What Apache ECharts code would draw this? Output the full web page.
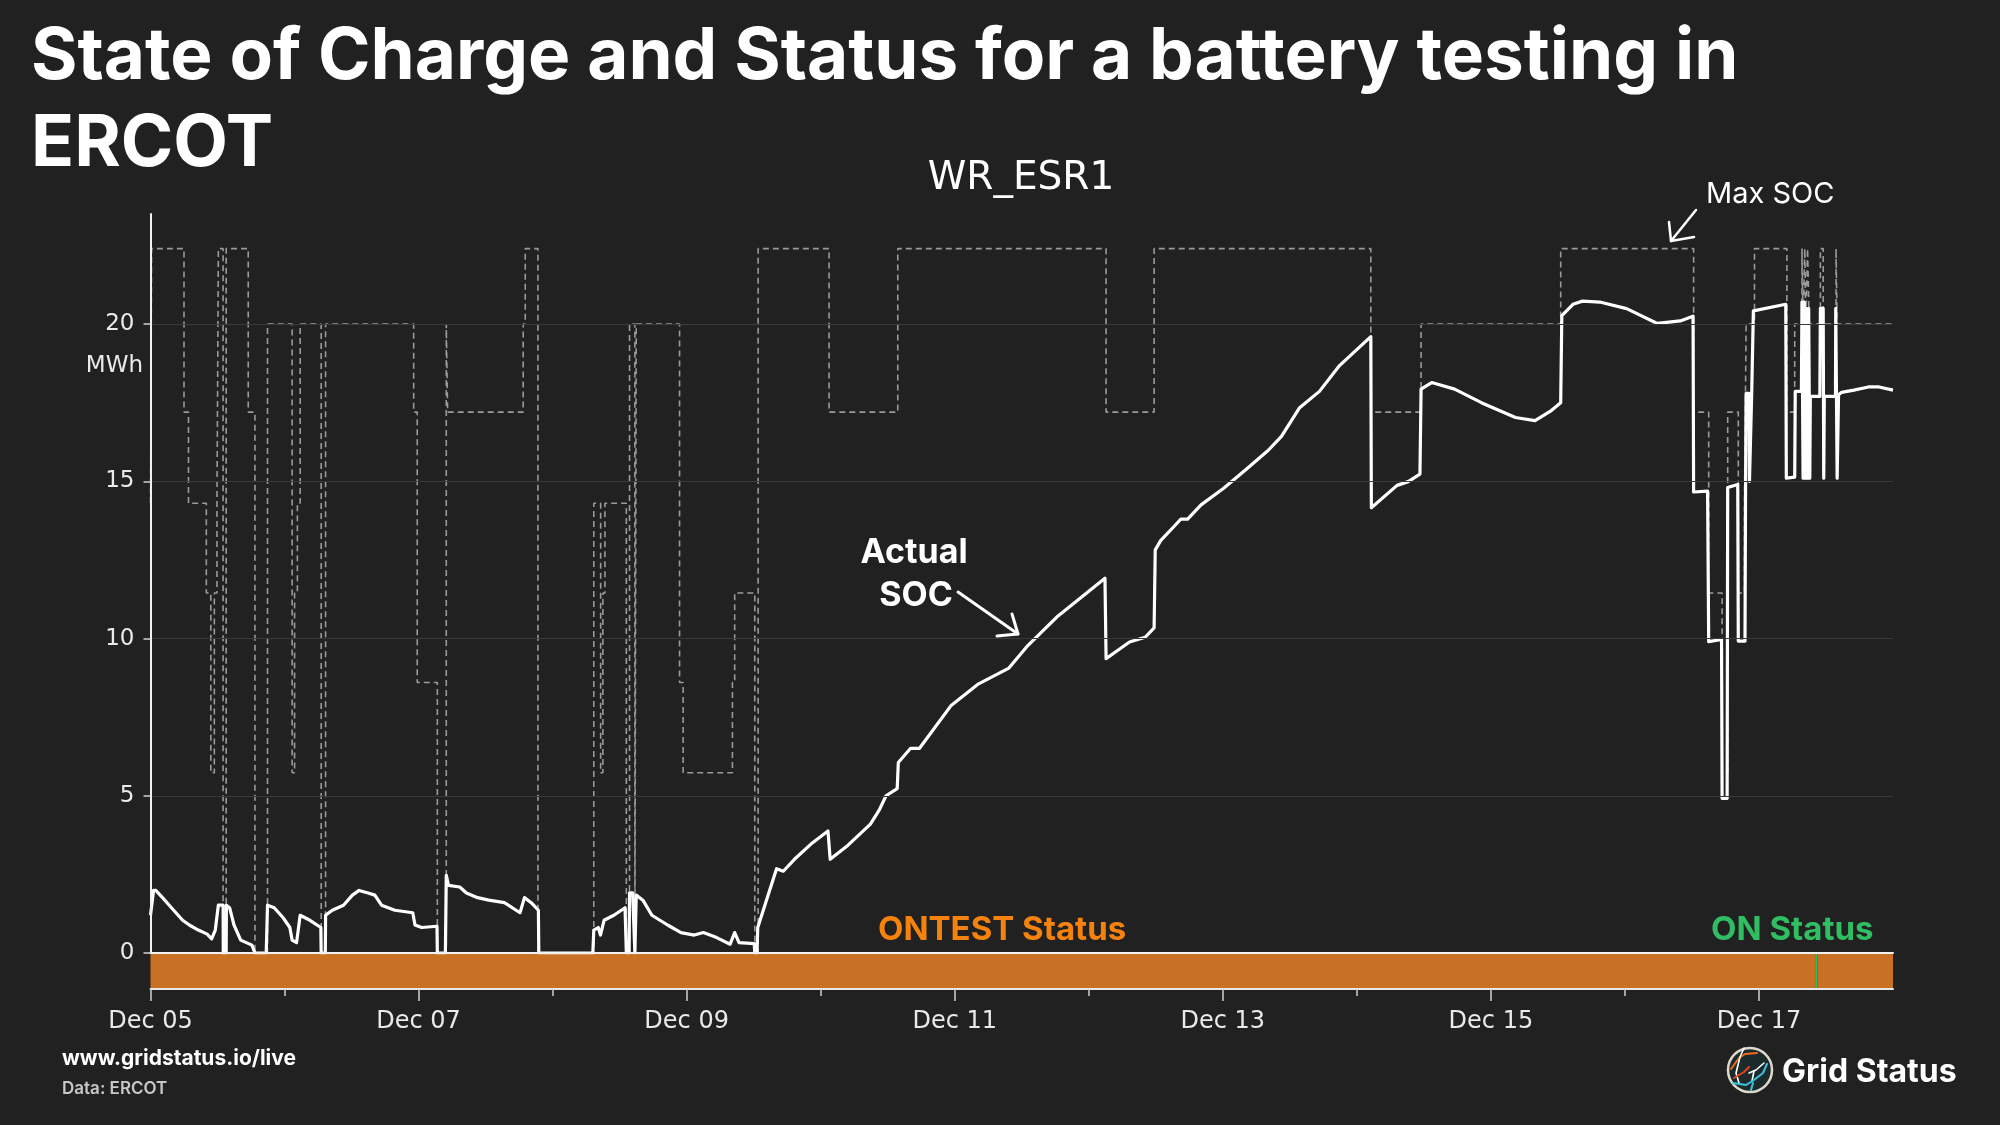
<!DOCTYPE html>
<html><head><meta charset="utf-8">
<script src="https://cdn.jsdelivr.net/npm/echarts@6/dist/echarts.min.js"></script>
<style>html,body{margin:0;padding:0;background:#212121;}#c{width:2000px;height:1125px;}</style>
</head><body><div id="c"></div>
<script>
// ---- data (hours since Dec 05 00:00) ----
const tickLabels = ['Dec 05','Dec 07','Dec 09','Dec 11','Dec 13','Dec 15','Dec 17'];
const majorTickHours = [0,48,96,144,192,240,288];
const minorTickHours = [24,72,120,168,216,264];
const yTicks = [0,5,10,15,20];

const socHours = [0.0,0.55,0.95,2.15,3.75,5.75,6.95,8.55,10.15,10.95,11.3,11.6,12.15,13.0,13.03,13.55,13.59,14.16,14.95,16.15,18.16,18.71,20.72,20.95,22.15,23.75,24.95,25.36,26.15,26.8,28.55,30.5,30.56,31.3,31.35,32.55,34.56,36.15,37.35,38.96,40.17,41.36,43.76,46.96,47.36,48.56,51.3,51.36,52.8,52.96,53.36,55.37,56.57,58.57,60.57,63.37,66.16,66.96,68.17,69.45,69.53,79.2,79.37,80.17,80.57,81.21,82.97,84.97,85.1,85.2,85.7,85.77,86.33,86.73,86.9,86.97,88.17,89.77,92.58,94.98,97.37,98.98,101.38,103.78,104.6,105.38,108.1,108.2,108.6,108.73,112.1,113.3,115.3,118.5,121.3,121.7,124.9,128.9,130.5,131.7,133.7,133.9,136.1,137.7,143.3,148.1,153.7,156.9,162.5,170.9,171.1,172.9,175.3,178.1,179.7,179.9,180.9,183.3,184.5,185.7,188.1,192.1,196.1,200.1,202.5,205.7,209.3,212.9,218.5,218.6,223.2,225.2,227.3,227.5,229.4,233.5,238.3,244.4,247.9,250.6,252.5,252.7,254.7,256.4,259.5,264.3,269.8,273.9,276.2,276.3,278.8,279.0,281.3,281.4,282.3,282.4,284.2,284.3,285.5,285.6,285.7,286.2,286.3,286.6,286.7,286.9,287.0,292.8,292.9,294.4,294.5,295.6,295.7,295.9,296.1,296.3,296.5,296.7,296.9,297.1,297.2,298.9,299.0,299.5,299.6,299.7,301.7,301.75,301.9,302.0,302.2,302.25,302.8,305.0,307.6,309.5,312.0];
const socMWh = [1.2,1.99,1.99,1.76,1.44,1.04,0.89,0.73,0.6,0.45,0.45,0.73,1.52,1.52,0,0,1.52,1.44,0.89,0.41,0.25,0,0,1.52,1.44,1.12,0.81,0.41,0.33,1.2,1.04,0.81,0,0,1.2,1.36,1.52,1.84,1.99,1.91,1.84,1.52,1.36,1.28,0.89,0.81,0.85,0,0,2.47,2.15,2.1,1.91,1.76,1.68,1.6,1.28,1.76,1.6,1.36,0,0,0.73,0.81,0.57,1.04,1.2,1.44,1.44,0,0,1.91,1.91,0,0,1.84,1.68,1.2,0.89,0.65,0.57,0.65,0.49,0.28,0.65,0.33,0.3,0,0,0.81,2.68,2.6,2.98,3.5,3.88,2.98,3.43,4.1,4.55,5.0,5.23,6.06,6.51,6.51,7.86,8.54,9.06,9.74,10.72,11.92,9.36,9.59,9.89,10.04,10.34,12.82,13.12,13.57,13.8,13.8,14.25,14.77,15.37,15.98,16.43,17.33,17.86,18.68,19.6,14.16,14.87,14.99,15.23,17.93,18.14,17.93,17.5,17.03,16.93,17.22,17.5,20.27,20.63,20.73,20.7,20.49,20.02,20.1,20.25,14.66,14.69,9.9,9.97,4.92,4.92,14.8,14.9,9.92,9.92,14.8,17.8,17.8,15.0,15.0,17.8,17.8,20.42,20.63,15.1,15.13,17.86,17.86,20.7,15.1,20.7,15.1,20.5,15.1,20.5,15.1,17.7,17.7,20.5,20.5,15.1,17.7,17.7,20.5,20.5,15.1,15.1,17.75,17.83,17.9,18.0,18.0,17.9];

// Max SOC change points (value holds until the next hour)
const maxHours = [0,0.2,6.0,6.8,10.0,10.8,11.43,11.9,12.15,13.0,13.55,17.5,18.7,20.95,25.36,25.8,26.3,26.8,30.56,31.35,47.12,47.76,51.36,52.96,53.2,66.73,67.1,69.37,79.37,80.6,81.0,81.37,85.2,85.77,86.73,86.97,94.73,95.37,104.2,104.6,108.2,108.8,121.5,133.8,171.1,179.7,218.5,227.5,252.5,276.3,279.0,281.4,282.4,284.3,285.4,285.7,287.2,293.0,294.4,295.7,295.9,296.2,296.4,296.7,297.0,299.0,299.5,301.8,302.0,312];
const maxMWh = [14.3,22.4,17.2,14.3,11.45,5.73,11.45,14.3,22.4,0,22.4,17.2,0,20,5.73,11.45,14.3,20,0,20,17.2,8.6,0,20,17.2,20,22.4,0,14.3,5.73,11.45,14.3,0,20,0,20,8.6,5.73,8.6,11.45,0,22.4,17.2,22.4,17.2,22.4,17.2,20,22.4,17.2,11.45,5.73,17.2,11.45,14.3,20,22.4,17.2,20,22.4,20,22.4,20,22.4,20,22.4,20,22.4,20,20];

// Resource status segments
const statusStart = [0, 298.2, 298.5];
const statusEnd = [298.2, 298.5, 312];
const statusName = ['ONTEST', 'ON', 'ONTEST'];

const statusColors = {ONTEST: '#c87124', ON: '#2fbf62'};
const socData = socHours.map((h, i) => [h, socMWh[i]]);
const maxData = maxHours.map((h, i) => [h, maxMWh[i]]);
const statusData = statusStart.map((s, i) => [s, statusEnd[i], statusName[i]]);

const chart = echarts.init(document.getElementById('c'), null, {renderer: 'canvas'});
const labelFont = 'DejaVu Sans';
const G = {left: 150.5, width: 1742.5};

function txt(text, x, y, size, weight, color, align, family) {
  return {type: 'text', x: x, y: y, silent: true, z: 100,
    style: {text: text, fontSize: size, fontWeight: weight, fontFamily: family || 'Inter',
      fill: color, align: align || 'left', verticalAlign: 'middle'}};
}
function pl(points, color, w) {
  return {type: 'polyline', silent: true, z: 100,
    shape: {points: points}, style: {stroke: color, lineWidth: w, fill: null, lineCap: 'round', lineJoin: 'round'}};
}

const option = {
  backgroundColor: '#212121',
  animation: false,
  grid: [
    {left: G.left, width: G.width, top: 214, height: 739},
    {left: G.left, width: G.width, top: 954, height: 35}
  ],
  xAxis: [
    {type: 'value', gridIndex: 0, min: 0, max: 312, position: 'bottom',
      axisLine: {show: true, lineStyle: {color: '#f2f2f2', width: 2}},
      axisTick: {show: false}, axisLabel: {show: false}, splitLine: {show: false}, z: 5},
    {type: 'value', gridIndex: 1, min: 0, max: 312, position: 'bottom',
      axisLine: {show: true, lineStyle: {color: '#e8e8e8', width: 2}},
      axisTick: {show: true, length: 12, customValues: majorTickHours, lineStyle: {color: '#cfcfcf', width: 1.5}},
      axisLabel: {show: true, customValues: majorTickHours, margin: 21, fontSize: 24, fontFamily: labelFont, color: '#eaeaea',
        formatter: v => tickLabels[Math.round(v / 48)] || ''},
      splitLine: {show: false}, z: 5},
    {type: 'value', gridIndex: 1, min: 0, max: 312, position: 'bottom',
      axisLine: {show: false},
      axisTick: {show: true, length: 7, customValues: minorTickHours, lineStyle: {color: '#cfcfcf', width: 1.5}},
      axisLabel: {show: false}, splitLine: {show: false}, z: 5}
  ],
  yAxis: [
    {type: 'value', gridIndex: 0, min: 0, max: 23.5, interval: 5,
      axisLine: {show: true, lineStyle: {color: '#f2f2f2', width: 2}},
      axisTick: {show: true, length: 7, customValues: yTicks, lineStyle: {color: '#cfcfcf', width: 1.5}},
      axisLabel: {show: true, customValues: yTicks, margin: 16, fontSize: 23, fontFamily: labelFont, color: '#eaeaea'},
      splitLine: {show: true, lineStyle: {color: '#3a3a3a', width: 1}}, z: 5},
    {type: 'value', gridIndex: 1, min: 0, max: 1, show: false}
  ],
  series: [
    {type: 'line', name: 'Max SOC', xAxisIndex: 0, yAxisIndex: 0, data: maxData, step: 'end',
      showSymbol: false, silent: true, z: 2,
      lineStyle: {color: '#9a9a9a', width: 1.6, type: [6, 4]}},
    {type: 'line', name: 'Actual SOC', xAxisIndex: 0, yAxisIndex: 0, data: socData,
      showSymbol: false, silent: true, z: 3,
      lineStyle: {color: '#ffffff', width: 3.2, join: 'round'}},
    {type: 'custom', name: 'Status', xAxisIndex: 1, yAxisIndex: 1, data: statusData, silent: true, z: 1,
      encode: {x: [0, 1]},
      renderItem: (params, api) => {
        const s = api.coord([api.value(0), 1]);
        const e = api.coord([api.value(1), 0]);
        const name = statusData[params.dataIndex][2];
        return {type: 'rect', shape: {x: s[0], y: s[1], width: e[0] - s[0], height: e[1] - s[1]},
          style: {fill: statusColors[name]}};
      }}
  ],
  graphic: [
    txt('State of Charge and Status for a battery testing in', 31, 58, 71, 700, '#ffffff'),
    txt('ERCOT', 31, 145, 71, 700, '#ffffff'),
    txt('WR_ESR1', 1021, 179, 39, 400, '#ffffff', 'center', labelFont),
    txt('MWh', 143, 366, 23, 400, '#eaeaea', 'right', labelFont),
    txt('Max SOC', 1706, 194, 29, 400, '#ffffff'),
    pl([[1696, 210], [1671, 241]], '#ffffff', 2.5),
    pl([[1669, 222], [1671, 241], [1694, 237]], '#ffffff', 2.5),
    txt('Actual', 914, 553, 34, 700, '#ffffff', 'center'),
    txt('SOC', 916, 596, 34, 700, '#ffffff', 'center'),
    pl([[958, 592], [1018, 634]], '#ffffff', 3),
    pl([[1012, 614], [1018, 634], [997, 636]], '#ffffff', 3),
    txt('ONTEST Status', 878, 930, 33, 700, '#f5820d'),
    txt('ON Status', 1711, 930, 33, 700, '#2fbf62'),
    txt('www.gridstatus.io/live', 62, 1059, 21, 700, '#ffffff'),
    txt('Data: ERCOT', 62, 1089, 17, 600, '#c8c8c8'),
    txt('Grid Status', 1782, 1072, 32, 700, '#ffffff'),
    {type: 'circle', silent: true, z: 100, shape: {cx: 1750, cy: 1070, r: 22},
      style: {fill: '#1d2a2b', stroke: '#dcd8cc', lineWidth: 2.5}},
    pl([[1731, 1069], [1739, 1058], [1745, 1054], [1757, 1053]], '#f06a1f', 2),
    pl([[1744, 1048], [1740, 1057], [1736, 1073], [1739, 1083]], '#ffffff', 1.6),
    pl([[1734, 1078], [1744, 1072], [1749, 1067]], '#e8401c', 2),
    pl([[1749, 1073], [1756, 1070], [1764, 1063]], '#ffffff', 1.6),
    pl([[1754, 1071], [1752, 1081]], '#ffffff', 1.6),
    pl([[1733, 1083], [1746, 1085], [1754, 1080], [1763, 1073], [1767, 1064]], '#3cc3e0', 2),
    pl([[1751, 1090], [1753, 1083]], '#3cc3e0', 2)
  ]
};
chart.setOption(option);
</script></body></html>
